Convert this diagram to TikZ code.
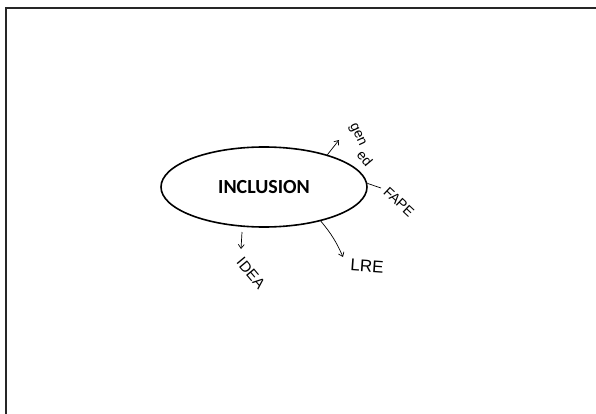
\documentclass[tikz,border=0pt]{standalone}
\usepackage{fontspec}
\setsansfont{Carlito}
\newfontfamily\handfont{Liberation Sans}
\usetikzlibrary{arrows.meta, positioning, shapes.geometric}

\begin{document}
\begin{tikzpicture}[
  x=1pt, y=-1pt,
  topic/.style={ellipse, draw, line width=1.6pt, minimum width=206pt,
    minimum height=80pt, inner sep=0pt,
    font=\sffamily\bfseries\fontsize{20}{22}\selectfont},
  scrawl/.style={inner sep=0pt, font=\handfont},
  link/.style={-{Straight Barb[length=4pt, width=6pt]}, line width=0.7pt},
  tick/.style={line width=0.7pt}
]
  \useasboundingbox (0,0) rectangle (596,414);
  % page frame, runs off at the right and bottom
  \draw[line width=1.5pt, black!85] (6,414) -- (6,8) -- (596,8);

  \node[topic] (incl) at (264,187) {INCLUSION};

  % ends of the strokes drawn out of the ellipse
  \coordinate (genend) at (339,140);
  \coordinate (fapeend) at (381,188);
  \coordinate (lreend) at (343,257);
  \coordinate (ideaend) at (241,249);

  \node[scrawl, rotate=-65, font=\handfont\fontsize{14}{14}\selectfont] (gen) at (357,135) {gen};
  \node[scrawl, rotate=-50, font=\handfont\fontsize{14}{14}\selectfont] (ed) at (365,158) {ed};
  \node[scrawl, rotate=-43, font=\handfont\fontsize{14}{14}\selectfont] (fape) at (399,202) {FAPE};
  \node[scrawl, rotate=-4, font=\handfont\fontsize{17}{17}\selectfont] (lre) at (367,266) {LRE};
  \node[scrawl, rotate=-50, font=\handfont\fontsize{15}{15}\selectfont] (idea) at (251,273) {IDEA};

  \draw[link] (incl.27) -- (genend);
  \draw[tick] (incl.2) -- (fapeend);
  \draw[link] (incl.-31) to[bend left=8] (lreend);
  \draw[link] (242,232) -- (ideaend);
\end{tikzpicture}
\end{document}
